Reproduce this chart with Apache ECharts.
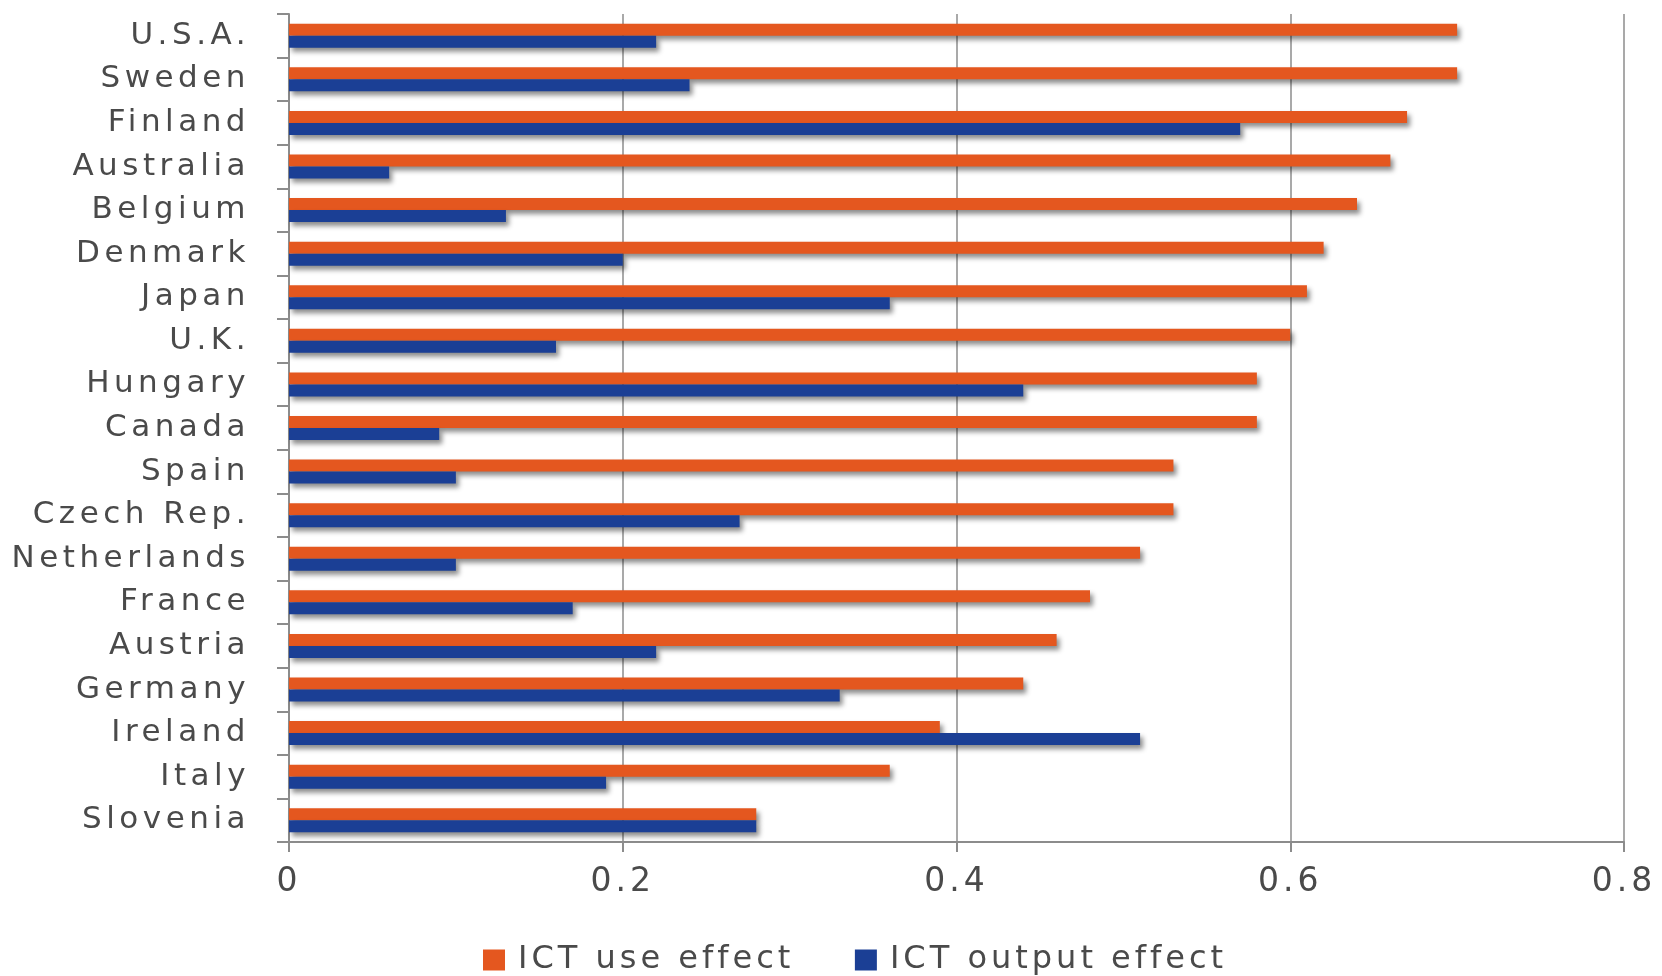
<!DOCTYPE html>
<html>
<head>
<meta charset="utf-8">
<script src="https://cdn.jsdelivr.net/npm/echarts@6/dist/echarts.min.js"></script>
<style>
html,body{margin:0;padding:0;background:#fff;}
#chart{width:1662px;height:976px;}
</style>
</head>
<body>
<div id="chart"></div>
<script>
const countries = ['U.S.A.','Sweden','Finland','Australia','Belgium','Denmark','Japan','U.K.','Hungary','Canada','Spain','Czech Rep.','Netherlands','France','Austria','Germany','Ireland','Italy','Slovenia'];
const useEffect = [0.70,0.70,0.67,0.66,0.64,0.62,0.61,0.60,0.58,0.58,0.53,0.53,0.51,0.48,0.46,0.44,0.39,0.36,0.28];
const outputEffect = [0.22,0.24,0.57,0.06,0.13,0.20,0.36,0.16,0.44,0.09,0.10,0.27,0.10,0.17,0.22,0.33,0.51,0.19,0.28];
const seriesNames = ['ICT use effect','ICT output effect'];

const FONT = 'DejaVu Sans';
const TXT = '#4a4a4a';
const AX = '#8c8c8c';
const shadow = {shadowColor:'rgba(0,0,0,0.45)', shadowBlur:5, shadowOffsetX:3, shadowOffsetY:4};

// widen the letter spacing of drawn text, like the reference typeface
(function(){
  const P = CanvasRenderingContext2D.prototype;
  const orig = P.fillText;
  P.fillText = function(){
    if ('letterSpacing' in this) {
      const prev = this.letterSpacing;
      this.letterSpacing = /\b31px/.test(this.font) ? '4.5px' : '4px';
      const r = orig.apply(this, arguments);
      this.letterSpacing = prev;
      return r;
    }
    return orig.apply(this, arguments);
  };
})();

const chart = echarts.init(document.getElementById('chart'), null, {renderer:'canvas'});
chart.setOption({
  animation:false,
  backgroundColor:'#fff',
  grid:{left:289, right:38, top:14, bottom:134},
  legend:{
    left:478, top:939, itemWidth:22, itemHeight:21, itemGap:117, icon:'rect',
    textStyle:{fontFamily:FONT, fontSize:32, color:TXT, padding:[0,0,0,8]},
    data:seriesNames
  },
  xAxis:{
    type:'value', min:0, max:0.8, interval:0.2,
    axisLine:{show:true, lineStyle:{color:AX, width:2}},
    axisTick:{show:true, length:10, lineStyle:{color:AX, width:2}},
    splitLine:{show:true, lineStyle:{color:AX, width:1.5}},
    axisLabel:{fontFamily:FONT, fontSize:33, color:TXT, margin:24}
  },
  yAxis:{
    type:'category', data:countries, inverse:true,
    axisLine:{show:true, lineStyle:{color:AX, width:2}},
    axisTick:{show:true, length:12, inside:false, lineStyle:{color:AX, width:2}},
    axisLabel:{fontFamily:FONT, fontSize:31, color:TXT, margin:39}
  },
  series:[
    {name:seriesNames[0], type:'bar', data:useEffect, barWidth:12, barGap:'0%',
     itemStyle:Object.assign({color:'#E4571F'}, shadow)},
    {name:seriesNames[1], type:'bar', data:outputEffect, barWidth:12, barGap:'0%',
     itemStyle:Object.assign({color:'#1B3F95'}, shadow)}
  ]
});
</script>
</body>
</html>
